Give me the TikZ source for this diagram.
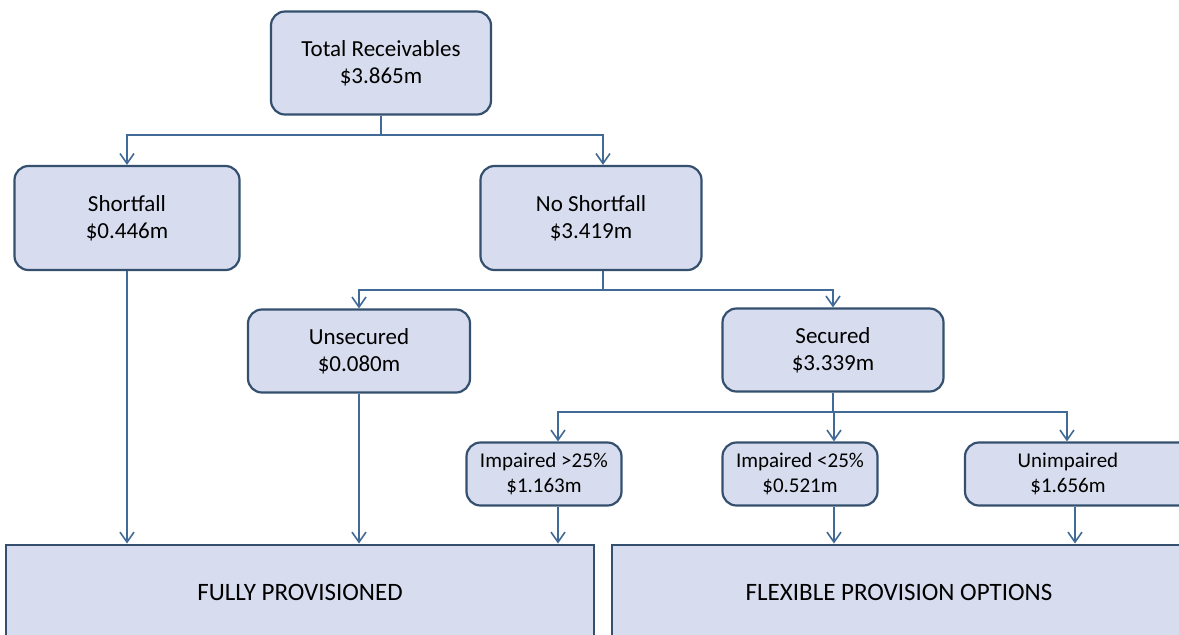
\documentclass[tikz,border=0pt]{standalone}
\usepackage{fontspec}
\setmainfont{Carlito}
\usetikzlibrary{arrows.meta}
\definecolor{boxfill}{HTML}{D7DDEE}
\definecolor{boxline}{HTML}{35506F}
\definecolor{arrline}{HTML}{416A96}
\tikzset{
  box/.style={draw=boxline,fill=boxfill,line width=1.1pt,rounded corners=7pt,
    align=center,font=\fontsize{11.5}{13.5}\selectfont,inner sep=0pt},
  smallbox/.style={box,font=\fontsize{10.5}{12.5}\selectfont},
  bigbox/.style={draw=boxline,fill=boxfill,line width=1pt,
    font=\fontsize{12.5}{14}\selectfont,inner sep=0pt},
  conn/.style={draw=arrline,line width=0.9pt},
  arr/.style={conn,-{Straight Barb[length=5pt,width=7pt,line width=0.8pt]}}
}
\begin{document}
\begin{tikzpicture}[x=0.5pt,y=-0.5pt]
\clip (0,0) rectangle (1179,634);
\fill[white] (0,0) rectangle (1179,634);
% top levels
\node[box,minimum width=110pt,minimum height=51.5pt] (total) at (381,63) {Total Receivables\\\$3.865m};
\node[box,minimum width=112.5pt,minimum height=52pt] (short) at (127,218) {Shortfall\\\$0.446m};
\node[box,minimum width=110.5pt,minimum height=52pt] (noshort) at (591,218) {No Shortfall\\\$3.419m};
\node[box,minimum width=111pt,minimum height=41.5pt] (unsec) at (359,351) {Unsecured\\\$0.080m};
\node[box,minimum width=110.5pt,minimum height=41.5pt] (sec) at (833,350) {Secured\\\$3.339m};
% secured split
\node[smallbox,minimum width=77.5pt,minimum height=31.5pt] (impa) at (544,474) {Impaired >25\%\\\$1.163m};
\node[smallbox,minimum width=77.5pt,minimum height=31.5pt] (impb) at (800,474) {Impaired <25\%\\\$0.521m};
\node[smallbox,minimum width=115pt,minimum height=31.5pt] (unimp) at (1080,474) {\hspace*{-12pt}Unimpaired\\\hspace*{-12pt}\$1.656m};
% outcomes
\node[bigbox,minimum width=294pt,minimum height=47.5pt] (full) at (300,592) {FULLY PROVISIONED};
\node[bigbox,minimum width=287pt,minimum height=47.5pt] (flex) at (899,592) {FLEXIBLE PROVISION OPTIONS};
% connectors
\coordinate (c1) at (381,135);
\coordinate (c2) at (603,290);
\coordinate (c3) at (833,412);
\draw[conn] (total.south) -- (c1);
\draw[arr] (c1) -| (short.north);
\draw[arr] (c1) -| ([xshift=6pt]noshort.north);
\draw[conn] ([xshift=6pt]noshort.south) -- (c2);
\draw[arr] (c2) -| (unsec.north);
\draw[arr] (c2) -| (sec.north);
\draw[conn] (sec.south) -- (c3);
\draw[arr] (c3) -| ([xshift=7pt]impa.north);
\draw[arr] (c3) -| ([xshift=17pt]impb.north);
\draw[arr] (c3) -| ([xshift=-6.5pt]unimp.north);
\draw[arr] (short.south) -- (short.south |- full.north);
\draw[arr] (unsec.south) -- (unsec.south |- full.north);
\draw[arr] ([xshift=7pt]impa.south) -- ([xshift=7pt]impa.south |- full.north);
\draw[arr] ([xshift=17pt]impb.south) -- ([xshift=17pt]impb.south |- flex.north);
\draw[arr] ([xshift=-2.5pt]unimp.south) -- ([xshift=-2.5pt]unimp.south |- flex.north);
\end{tikzpicture}
\end{document}
